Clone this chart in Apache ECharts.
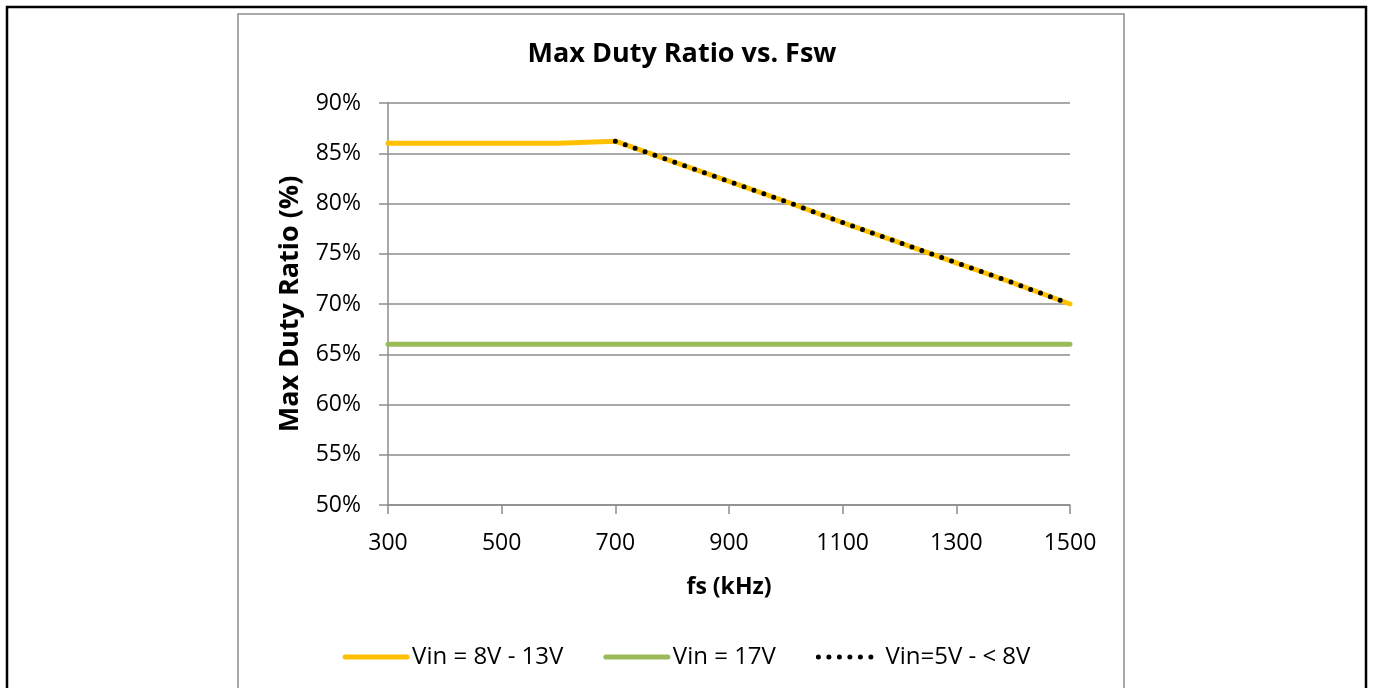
<!DOCTYPE html>
<html>
<head>
<meta charset="utf-8">
<script src="https://cdn.jsdelivr.net/npm/echarts@6/dist/echarts.min.js"></script>
<style>
  html, body { margin: 0; padding: 0; background: #fff; }
  #chart { width: 1373px; height: 688px; }
</style>
</head>
<body>
<div id="chart"></div>
<script>
// frequency in kHz
const freq = [300, 400, 500, 600, 700, 800, 900, 1000, 1100, 1200, 1300, 1400, 1500];
// max duty ratio in %
const vin8to13 = [86, 86, 86, 86, 86.2, 84.2, 82.2, 80.2, 78.1, 76.1, 74.1, 72.1, 70];
const vin17 = [66, 66, 66, 66, 66, 66, 66, 66, 66, 66, 66, 66, 66];
const vin5to8 = [null, null, null, null, 86.2, 84.2, 82.2, 80.2, 78.1, 76.1, 74.1, 72.1, 70];
const yTicks = [50, 55, 60, 65, 70, 75, 80, 85, 90];

const font = "'Open Sans', sans-serif";
const pairs = (ys) => freq.map((f, i) => [f, ys[i]]);

const myChart = echarts.init(document.getElementById("chart"));

const option = {
  animation: false,
  title: {
    text: "Max Duty Ratio vs. Fsw",
    left: 677,
    top: 36,
    textAlign: "center",
    textStyle: { fontFamily: font, fontSize: 27, fontWeight: "bold", color: "#000" },
  },
  graphic: [
    { type: "rect", shape: { x: 7, y: 7, width: 1359, height: 700 },
      style: { fill: null, stroke: "#000", lineWidth: 2.5 }, silent: true },
    { type: "rect", shape: { x: 238, y: 14, width: 886, height: 700 },
      style: { fill: null, stroke: "#8c8c8c", lineWidth: 1.5 }, silent: true },
  ],
  legend: {
    top: 640,
    left: "center",
    itemWidth: 62,
    itemHeight: 5,
    itemGap: 40,
    itemStyle: { opacity: 0 },
    lineStyle: { width: 5, cap: "round" },
    textStyle: { fontFamily: font, fontSize: 24, color: "#000" },
    data: ["Vin = 8V - 13V", "Vin = 17V", "Vin=5V - < 8V"],
  },
  grid: { left: 388, right: 303, top: 103, bottom: 183 },
  xAxis: {
    type: "value",
    min: 300,
    max: 1500,
    interval: 200,
    name: "fs (kHz)",
    nameLocation: "middle",
    nameGap: 71,
    nameTextStyle: { fontFamily: font, fontSize: 23, fontWeight: "bold", color: "#000" },
    axisLine: { lineStyle: { color: "#8c8c8c", width: 1.5 } },
    axisTick: { show: true, length: 9, lineStyle: { color: "#8c8c8c", width: 1.5 } },
    axisLabel: { fontFamily: font, fontSize: 23, color: "#000", margin: 27, formatter: (v) => String(v) },
    splitLine: { show: false },
  },
  yAxis: {
    type: "value",
    min: yTicks[0],
    max: yTicks[yTicks.length - 1],
    interval: 5,
    name: "Max Duty Ratio (%)",
    nameLocation: "middle",
    nameGap: 84,
    nameTextStyle: { fontFamily: font, fontSize: 27, fontWeight: "bold", color: "#000" },
    axisLine: { show: true, lineStyle: { color: "#8c8c8c", width: 1.5 } },
    axisTick: { show: true, length: 9, lineStyle: { color: "#8c8c8c", width: 1.5 } },
    axisLabel: { fontFamily: font, fontSize: 23, color: "#000", margin: 27, formatter: "{value}%" },
    splitLine: { lineStyle: { color: "#8c8c8c", width: 1.5 } },
  },
  series: [
    {
      name: "Vin = 8V - 13V",
      type: "line",
      data: pairs(vin8to13),
      symbol: "none",
      itemStyle: { color: "#FFC000" },
      lineStyle: { color: "#FFC000", width: 5, cap: "round" },
    },
    {
      name: "Vin = 17V",
      type: "line",
      data: pairs(vin17),
      symbol: "none",
      itemStyle: { color: "#9BBB59" },
      lineStyle: { color: "#9BBB59", width: 5, cap: "round" },
    },
    {
      name: "Vin=5V - < 8V",
      type: "line",
      data: pairs(vin5to8),
      symbol: "none",
      connectNulls: false,
      itemStyle: { color: "#000" },
      lineStyle: { color: "#000", width: 5, type: [0, 10.5], cap: "round" },
    },
  ],
};

myChart.setOption(option);
</script>
</body>
</html>
